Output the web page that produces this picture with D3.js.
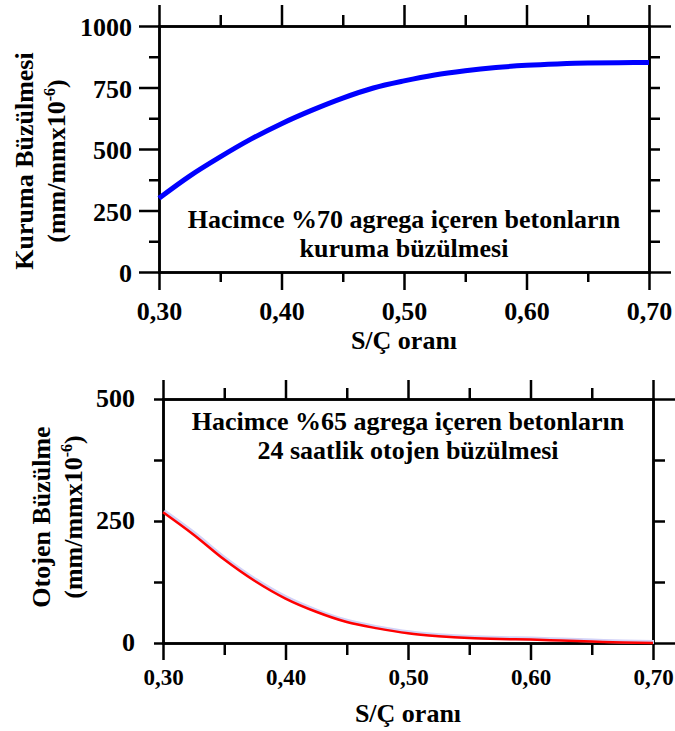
<!DOCTYPE html>
<html>
<head>
<meta charset="utf-8">
<script src="https://cdn.jsdelivr.net/npm/d3@7"></script>
<style>
  body { margin: 0; background: #fff; }
  text { font-family: "Liberation Serif", "Times New Roman", serif; font-weight: bold; fill: #000; }
</style>
</head>
<body>
<script>
// S/Ç ratio on the x axis
const ratio = [0.300, 0.325, 0.350, 0.375, 0.400, 0.425, 0.450, 0.475, 0.500,
               0.525, 0.550, 0.575, 0.600, 0.625, 0.650, 0.675, 0.700];
// drying shrinkage, %70 aggregate (mm/mm x10^-6)
const drying = [300, 390, 468, 540, 603, 658, 707, 748, 777,
                801, 818, 831, 840, 846, 850, 851, 852];
// 24 h autogenous shrinkage, %65 aggregate
const autogenous = [268, 222, 171, 127, 91, 64, 43, 30, 20,
                    14, 10, 8, 7, 5, 3, 1, 0];

const xMajor = [0.30, 0.40, 0.50, 0.60, 0.70];
const xMinor = [0.35, 0.45, 0.55, 0.65];
const dryMajor = [0, 250, 500, 750, 1000];
const dryMinor = [125, 375, 625, 875];
const autoMajor = [0, 250, 500];
const autoMinor = [125, 375];

const svg = d3.select('body').append('svg')
  .attr('width', 675)
  .attr('height', 731);

const trLocale = d3.formatLocale({ decimal: ',', thousands: '.', grouping: [3], currency: ['', ''] });
const xFmt = trLocale.format('.2f');
const yFmt = d3.format('d');

function styleAxis(sel, fontSize) {
  sel.attr('font-family', null)
    .attr('font-size', fontSize);
  sel.selectAll('path, line')
    .attr('stroke', '#000')
    .attr('stroke-width', 2.5);
  sel.select('.domain').attr('stroke-linecap', 'square');
}

function drawPanel(p) {
  const x = d3.scaleLinear().domain([0.3, 0.7]).range([p.left, p.right]);
  const y = d3.scaleLinear().domain([0, p.yMax]).range([p.bottom, p.top]);
  const g = svg.append('g');
  const inner = p.yMajor.filter(v => v > 0 && v < p.yMax);

  // left
  g.append('g').attr('transform', `translate(${p.left},0)`)
    .call(d3.axisLeft(y).tickValues(p.yMinor).tickSize(p.leftMinor).tickSizeOuter(0).tickFormat(''))
    .call(s => styleAxis(s, 26));
  g.append('g').attr('transform', `translate(${p.left},0)`)
    .call(d3.axisLeft(y).tickValues(p.yMajor).tickSize(p.leftMajor).tickPadding(p.leftPad).tickSizeOuter(0).tickFormat(yFmt))
    .call(s => styleAxis(s, 26))
    .selectAll('text').attr('dy', p.yDy);

  // bottom
  g.append('g').attr('transform', `translate(0,${p.bottom})`)
    .call(d3.axisBottom(x).tickValues(xMinor).tickSize(p.botMinor).tickSizeOuter(0).tickFormat(''))
    .call(s => styleAxis(s, 26));
  g.append('g').attr('transform', `translate(0,${p.bottom})`)
    .call(d3.axisBottom(x).tickValues(xMajor).tickSize(p.botMajor).tickPadding(p.botPad).tickSizeOuter(0).tickFormat(xFmt))
    .call(s => styleAxis(s, p.xFont));

  // top
  g.append('g').attr('transform', `translate(0,${p.top})`)
    .call(d3.axisTop(x).tickValues(xMinor).tickSize(p.topMinor).tickSizeOuter(0).tickFormat(''))
    .call(s => styleAxis(s, 26));
  g.append('g').attr('transform', `translate(0,${p.top})`)
    .call(d3.axisTop(x).tickValues(xMajor).tickSize(p.topMajor).tickSizeOuter(0).tickFormat(''))
    .call(s => styleAxis(s, 26));

  // right
  g.append('g').attr('transform', `translate(${p.right},0)`)
    .call(d3.axisRight(y).tickValues(p.yMinor.concat(inner)).tickSize(p.rightTick).tickSizeOuter(0).tickFormat(''))
    .call(s => styleAxis(s, 26));
  g.append('g').attr('transform', `translate(${p.right},0)`)
    .call(d3.axisRight(y).tickValues([0, p.yMax]).tickSize(22).tickSizeOuter(0).tickFormat(''))
    .call(s => styleAxis(s, 26));

  // curve
  const line = d3.line()
    .x((d, i) => x(ratio[i]))
    .y(d => y(d))
    .curve(d3.curveMonotoneX);
  if (p.halo) {
    g.append('path').datum(p.values)
      .attr('d', line)
      .attr('fill', 'none')
      .attr('stroke', '#d2d2f7')
      .attr('stroke-width', 4)
      .attr('transform', 'translate(1,-1)');
  }
  g.append('path').datum(p.values)
    .attr('d', line)
    .attr('fill', 'none')
    .attr('stroke', p.color)
    .attr('stroke-width', p.width);

  // in-plot title
  const cx = (p.left + p.right) / 2;
  p.title.forEach((t, i) => {
    g.append('text')
      .attr('x', cx)
      .attr('y', p.titleY[i])
      .attr('text-anchor', 'middle')
      .attr('font-size', 26)
      .text(t);
  });

  // x title
  g.append('text')
    .attr('x', cx)
    .attr('y', p.xTitleY)
    .attr('text-anchor', 'middle')
    .attr('font-size', 26)
    .text('S/Ç oranı');

  // y title, two rotated lines
  g.append('text')
    .attr('transform', `translate(${p.yTitleX[0]},${p.yTitleCy}) rotate(-90)`)
    .attr('text-anchor', 'middle')
    .attr('font-size', 26)
    .text(p.yTitle);
  const unit = g.append('text')
    .attr('transform', `translate(${p.yTitleX[1]},${p.yTitleCy}) rotate(-90)`)
    .attr('text-anchor', 'middle')
    .attr('font-size', 26);
  unit.append('tspan').text('(mm/mmx10');
  unit.append('tspan').attr('font-size', 16).attr('dy', -10).text('-6');
  unit.append('tspan').attr('dy', 10).text(')');
}

drawPanel({
  left: 159, right: 649, top: 26, bottom: 272, yMax: 1000,
  yMajor: dryMajor, yMinor: dryMinor, values: drying,
  leftMajor: 20, leftMinor: 10, leftPad: 7, yDy: '0.37em',
  botMajor: 18, botMinor: 10, botPad: 11.5, xFont: 26,
  topMajor: 21, topMinor: 11, rightTick: 11,
  color: '#0000ff', width: 5, halo: false,
  title: ['Hacimce %70 agrega içeren betonların', 'kuruma büzülmesi'],
  titleY: [228, 257],
  xTitleY: 349,
  yTitle: 'Kuruma Büzülmesi', yTitleX: [33, 65], yTitleCy: 161
});

drawPanel({
  left: 163, right: 653, top: 399, bottom: 643, yMax: 500,
  yMajor: autoMajor, yMinor: autoMinor, values: autogenous,
  leftMajor: 9, leftMinor: 9, leftPad: 19, yDy: '0.3em',
  botMajor: 17, botMinor: 12, botPad: 8.7, xFont: 23,
  topMajor: 19, topMinor: 11, rightTick: 12,
  color: '#ff0000', width: 2.5, halo: true,
  title: ['Hacimce %65 agrega içeren betonların', '24 saatlik otojen büzülmesi'],
  titleY: [430, 459],
  xTitleY: 722,
  yTitle: 'Otojen Büzülme', yTitleX: [50, 82], yTitleCy: 517
});
</script>
</body>
</html>
